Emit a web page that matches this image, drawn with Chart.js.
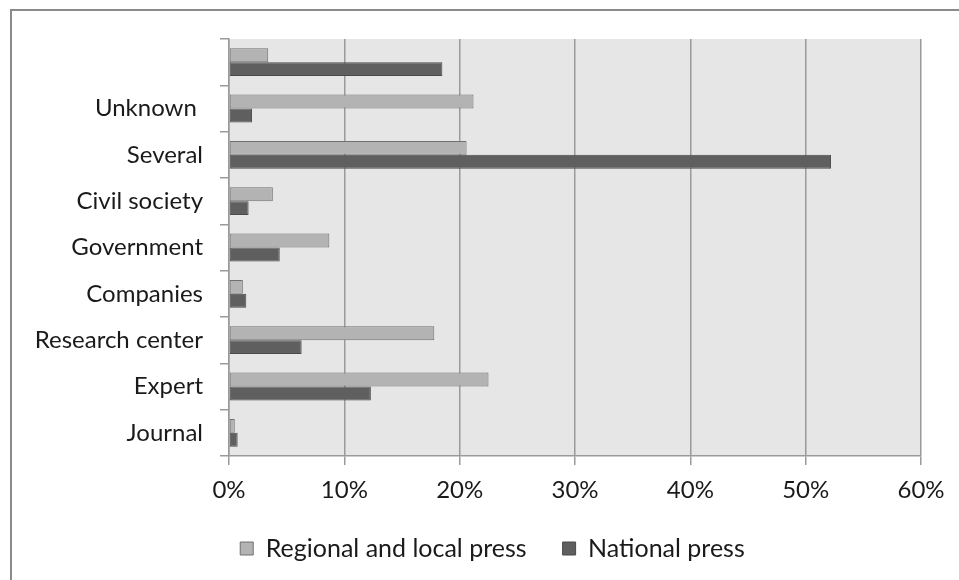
<!DOCTYPE html>
<html>
<head>
<meta charset="utf-8">
<script src="https://cdn.jsdelivr.net/npm/chart.js@4.4.1/dist/chart.umd.min.js"></script>
<style>
  html, body { margin: 0; padding: 0; background: #fff; }
  #wrap { width: 959px; height: 580px; position: relative; }
</style>
</head>
<body>
<div id="wrap"><canvas id="chart" width="959" height="580"></canvas></div>
<script>
// Categories from top to bottom, as in the picture.
const categories = ['', 'Unknown ', 'Several', 'Civil society', 'Government', 'Companies', 'Research center', 'Expert', 'Journal'];

// Share of articles per source type (%).
const regionalLocalPress = [3.4, 21.2, 20.6, 3.8, 8.7, 1.2, 17.8, 22.5, 0.5];
const nationalPress = [18.5, 2.0, 52.2, 1.7, 4.4, 1.5, 6.3, 12.3, 0.75];

// Axis settings.
const xMin = 0;
const xMax = 60;
const xStep = 10;

const fontFamily = 'Lato, "Open Sans", sans-serif';
const textColor = '#1a1a1a';
const gridColor = '#9a9a9a';

// Plot background and outer frame.
const backgroundPlugin = {
    id: 'background',
    afterLayout(chart) {
        // Move the legend a little so it sits where the original has it.
        const legend = chart.legend;
        const dy = chart.chartArea.bottom + 44 - legend.top;
        legend.top += dy;
        legend.bottom += dy;
        legend.left += 32;
        legend.right += 32;
    },
    beforeDraw(chart) {
        const ctx = chart.ctx;
        const area = chart.chartArea;
        ctx.save();
        ctx.fillStyle = '#e6e6e6';
        ctx.fillRect(area.left, area.top, area.right - area.left, area.bottom - area.top);

        ctx.strokeStyle = '#8a8a8a';
        ctx.lineWidth = 2;
        ctx.beginPath();
        ctx.moveTo(11, chart.height);
        ctx.lineTo(11, 10);
        ctx.lineTo(chart.width, 10);
        ctx.stroke();
        ctx.restore();
    }
};

const chartElement = document.getElementById('chart');

new Chart(chartElement, {
    type: 'bar',
    data: {
        labels: categories,
        datasets: [
            {
                label: 'Regional and local press',
                data: regionalLocalPress,
                backgroundColor: '#b3b3b3',
                borderColor: '#707070',
                borderWidth: 1,
                borderSkipped: false
            },
            {
                label: 'National press',
                data: nationalPress,
                backgroundColor: '#5f5f5f',
                borderColor: '#4a4a4a',
                borderWidth: 1,
                borderSkipped: false
            }
        ]
    },
    options: {
        indexAxis: 'y',
        responsive: false,
        animation: false,
        categoryPercentage: 0.6,
        barPercentage: 1.0,
        layout: {
            padding: { left: 0, top: 39, right: 38, bottom: 2 }
        },
        plugins: {
            tooltip: { enabled: false },
            legend: {
                position: 'bottom',
                labels: {
                    color: textColor,
                    font: { family: fontFamily, size: 25 },
                    boxWidth: 13,
                    boxHeight: 13,
                    padding: 36
                }
            }
        },
        scales: {
            x: {
                min: xMin,
                max: xMax,
                ticks: {
                    stepSize: xStep,
                    color: textColor,
                    font: { family: fontFamily, size: 24 },
                    padding: 11,
                    callback: value => value + '%'
                },
                grid: {
                    color: gridColor,
                    lineWidth: 1.5,
                    tickLength: 9
                },
                border: { color: gridColor, width: 1.5 },
                afterFit: scale => { scale.height = 51; }
            },
            y: {
                ticks: {
                    color: textColor,
                    font: { family: fontFamily, size: 24 },
                    padding: 17
                },
                grid: {
                    offset: true,
                    drawOnChartArea: false,
                    color: gridColor,
                    lineWidth: 1.5,
                    tickLength: 9
                },
                border: { color: gridColor, width: 1.5 },
                afterFit: scale => { scale.width = 229; }
            }
        }
    },
    plugins: [backgroundPlugin]
});
</script>
</body>
</html>
